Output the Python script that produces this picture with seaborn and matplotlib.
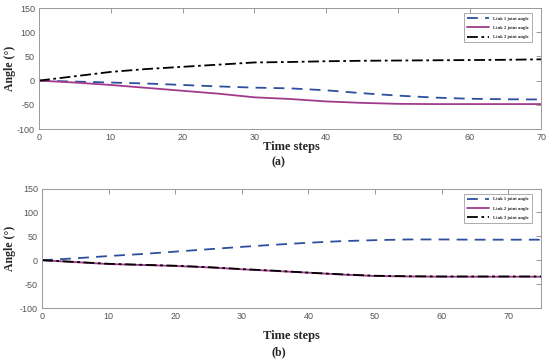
import numpy as np
import pandas as pd
import matplotlib
matplotlib.use('Agg')
import matplotlib.pyplot as plt
import seaborn as sns

# Data
time_a = [0, 5, 10, 15, 20, 25, 30, 35, 40, 45, 50, 55, 60, 65, 70]
link1_a = [0, -2, -4, -6, -9, -12, -14.5, -16, -20, -26, -31, -35, -37.5, -38.5, -39]
link2_a = [0, -4, -9, -15, -21, -27, -34.5, -38, -43, -46, -48, -48.5, -48.5, -48.5, -48.5]
link3_a = [0, 9, 18, 24, 28.5, 33, 37.5, 38.5, 40, 41, 41.5, 42, 42.5, 43, 44]

time_b = [0, 5, 10, 15, 20, 25, 30, 35, 40, 45, 50, 55, 60, 65, 70, 75]
link1_b = [0, 4, 8.8, 13, 18, 23, 28, 32.5, 36.6, 40, 42, 43.5, 43.5, 43, 43, 43]
link2_b = [0, -4, -8, -10, -12, -15, -19, -22.5, -26, -30, -33, -34, -34.5, -34.5, -34.5, -34.5]
link3_b = [0, -3.5, -7.5, -9.5, -11.5, -14.5, -18.5, -22, -26, -29.5, -32.5, -33.5, -34, -34, -34, -34]

labels = ['Link 1 joint angle', 'Link 2 joint angle', 'Link 3 joint angle']
colors = ['#2e4f9e', '#a23a8c', '#000000']
dashes = [(6, 4), '', (6, 2, 1.5, 2)]
yticks = [-100, -50, 0, 50, 100, 150]
xticks = [0, 10, 20, 30, 40, 50, 60, 70]

sns.set_style('white')
plt.rcParams['font.family'] = ['Liberation Sans', 'DejaVu Sans']
plt.rcParams['axes.unicode_minus'] = False


def long_df(t, l1, l2, l3):
    return pd.concat([pd.DataFrame({'t': t, 'angle': v, 'series': lab})
                      for v, lab in zip([l1, l2, l3], labels)])


def draw(ax, df, xmax, ylab_x, xlab_pos):
    sns.lineplot(data=df, x='t', y='angle', hue='series', style='series',
                 palette=colors, dashes=dashes, linewidth=1.3, ax=ax)
    ax.set_xlim(0, xmax)
    ax.set_ylim(-100, 150)
    ax.set_xticks(xticks)
    ax.set_yticks(yticks)
    ax.tick_params(direction='in', top=True, right=True, labelsize=6.5,
                   labelcolor='#555555', color='#888888', length=3.5, width=0.6, pad=3)
    for s in ax.spines.values():
        s.set_color('#999999')
        s.set_linewidth(0.7)
    ax.set_xlabel('Time steps', family='Liberation Serif', fontweight='bold', fontsize=9)
    ax.set_ylabel('Angle (°)', family='Liberation Serif', fontweight='bold', fontsize=8.5)
    ax.yaxis.set_label_coords(ylab_x, 0.5)
    ax.xaxis.set_label_coords(*xlab_pos)
    leg = ax.legend(loc='upper right', frameon=True, fancybox=False,
                    handlelength=4.8, borderpad=0.7, labelspacing=1.1, handletextpad=0.8,
                    bbox_to_anchor=(0.985, 0.975), prop={'family': 'Liberation Serif',
                                                         'weight': 'bold', 'size': 3.3})
    leg.get_frame().set_edgecolor('#888888')
    leg.get_frame().set_linewidth(0.6)


fig = plt.figure(figsize=(5.5, 3.63), dpi=100)
ax1 = fig.add_axes([0.0709, 0.6446, 0.9136, 0.3333])
ax2 = fig.add_axes([0.0764, 0.1515, 0.908, 0.329])

draw(ax1, long_df(time_a, link1_a, link2_a, link3_a), 70, -0.046, (0.5015, -0.099))
draw(ax2, long_df(time_b, link1_b, link2_b, link3_b), 75, -0.052, (0.4985, -0.188))

fig.text(278 / 550, 1 - 162 / 363, '(a)', family='Liberation Serif', fontweight='bold',
         fontsize=8.5, ha='center', va='center')
fig.text(279 / 550, 1 - 352 / 363, '(b)', family='Liberation Serif', fontweight='bold',
         fontsize=8.5, ha='center', va='center')

fig.savefig('out.png', dpi=100)
